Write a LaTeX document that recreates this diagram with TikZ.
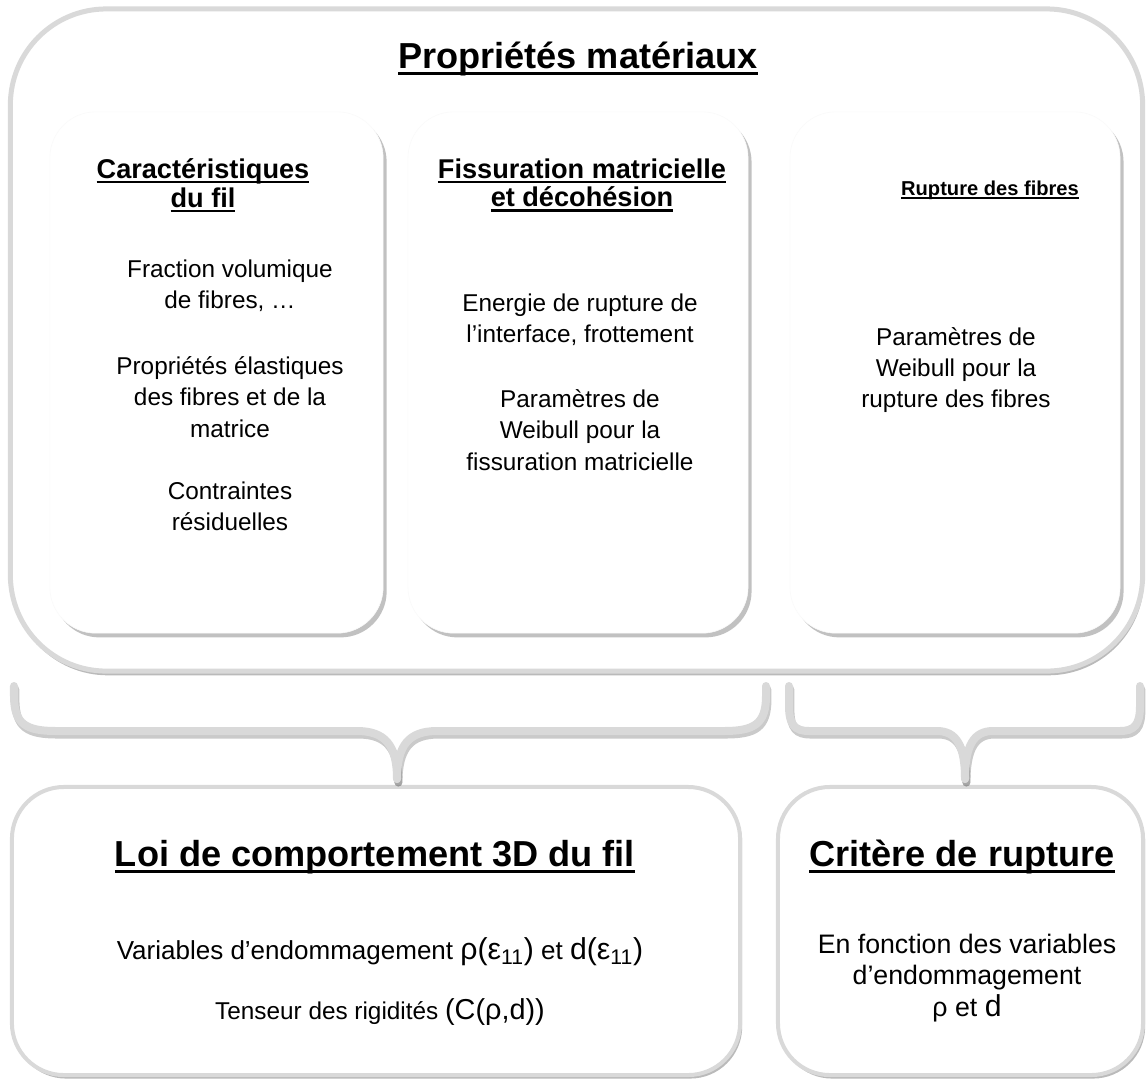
\documentclass[tikz,border=0pt]{standalone}
\usepackage{fontspec}
\setmainfont{Liberation Sans}
\usetikzlibrary{shadows,positioning}
\newcommand{\souligne}[1]{\setbox0\hbox{#1}\leavevmode\rlap{\rule[-0.17em]{\wd0}{0.08em}}\box0}
\newcommand{\grand}[1]{{\fontsize{20.5}{22}\selectfont #1}}
\newcommand{\tgrand}[1]{{\fontsize{21.5}{23}\selectfont #1}}
\tikzset{
    grandcadre/.style={rectangle, draw=gray!30, line width=0.125cm, fill=white, rounded corners=2.4cm,
        drop shadow={shadow xshift=1pt, shadow yshift=-3pt, opacity=0.45, fill=black!60}},
    carte/.style={rectangle, draw=gray!4, thin, fill=white, rounded corners=1.15cm,
        drop shadow={shadow xshift=2.5pt, shadow yshift=-3pt, opacity=0.4, fill=black!60}},
    resultat/.style={rectangle, draw=gray!30, line width=0.1cm, fill=white, rounded corners=1.3cm,
        drop shadow={shadow xshift=1.5pt, shadow yshift=-2.5pt, opacity=0.45, fill=black!60}},
    accolade/.style={draw=gray!30, line width=0.2cm, line cap=round},
    ombre/.style={draw=black!60, opacity=0.35, line width=0.2cm, line cap=round,
        transform canvas={shift={(1pt,-2.5pt)}}},
    gtitre/.style={align=center, font=\fontsize{25.7}{31}\selectfont\bfseries},
    stitre/.style={align=center, font=\fontsize{19.3}{20.5}\selectfont\bfseries},
    corps/.style={align=center, font=\fontsize{17.3}{22.3}\selectfont}
}

\begin{document}
\begin{tikzpicture}[x=0.025cm, y=-0.025cm]
    \useasboundingbox (0,0) rectangle (1148,1080);

    % Cadres
    \node[grandcadre, minimum width=28.3cm, minimum height=16.55cm] (proprietes) at (576.5,340) {};
    \node[carte, minimum width=8.33cm, minimum height=13.03cm] (fil) at (216.5,372.5) {};
    \node[carte, minimum width=8.5cm, minimum height=13.03cm] (fissuration) at (578,372.5) {};
    \node[carte, minimum width=8.25cm, minimum height=13.03cm] (fibres) at (955,372.5) {};
    \node[resultat, minimum width=18.2cm, minimum height=7.2cm] (loi) at (376,931) {};
    \node[resultat, minimum width=9.125cm, minimum height=7.2cm] (critere) at (960.5,931) {};

    % Textes
    \node[gtitre] (titre) at (578,59) {\souligne{Propriétés matériaux}};

    \node[stitre] (tfil) at (203,185) {\souligne{Caractéristiques}\\\souligne{du fil}};
    \node[corps] (fraction) at (230,286) {Fraction volumique\\de fibres, …};
    \node[corps] (elastique) at (230,397) {Propriétés élastiques\\des fibres et de la\\matrice};
    \node[corps] (residuel) at (230,506) {Contraintes\\résiduelles};

    \node[stitre] (tfissu) at (582,185) {\souligne{Fissuration matricielle}\\\souligne{et décohésion}};
    \node[corps] (energie) at (580,320) {Energie de rupture de\\l’interface, frottement};
    \node[corps] (weibullm) at (580,430) {Paramètres de\\Weibull pour la\\fissuration matricielle};

    \node[stitre, font=\fontsize{14.3}{16}\selectfont\bfseries] (tfibres) at (990,190) {\souligne{Rupture des fibres}};
    \node[corps] (weibullf) at (956,370) {Paramètres de\\Weibull pour la\\rupture des fibres};

    \node[gtitre] (tloi) at (375,857) {\souligne{Loi de comportement 3D du fil}};
    \node[corps, font=\fontsize{18.5}{22}\selectfont] (variables) at (380,952)
        {Variables d’endommagement \tgrand{ρ(ε\textsubscript{11})} et \tgrand{d(ε\textsubscript{11})}};
    \node[corps] (tenseur) at (380,1012) {Tenseur des rigidités \grand{(C(ρ,d))}};

    \node[gtitre] (tcritere) at (962,857) {\souligne{Critère de rupture}};
    \node[corps, font=\fontsize{19}{22.4}\selectfont] (fonction) at (967,978)
        {En fonction des variables\\d’endommagement\\ρ et \tgrand{d}};

    % Accolades
    \coordinate (lA) at (14,686);
    \coordinate (lB) at (766,686);
    \coordinate (lT) at (397,779);
    \coordinate (rA) at (789,686);
    \coordinate (rB) at (1140,686);
    \coordinate (rT) at (965,779);
    \foreach \sty in {ombre, accolade} {
        \draw[\sty] (lA) -- (14,696) .. controls (14,724) and (26,731) .. (56,731) -- (357,731)
            .. controls (385,731) and (397,745) .. (lT);
        \draw[\sty] (lB) -- (766,696) .. controls (766,724) and (754,731) .. (724,731) -- (437,731)
            .. controls (409,731) and (397,745) .. (lT);
        \draw[\sty] (rA) -- (789,706) .. controls (789,725) and (795,731) .. (809,731) -- (937,731)
            .. controls (956,731) and (965,745) .. (rT);
        \draw[\sty] (rB) -- (1140,706) .. controls (1140,725) and (1134,731) .. (1120,731) -- (993,731)
            .. controls (974,731) and (965,745) .. (rT);
    }
\end{tikzpicture}
\end{document}
